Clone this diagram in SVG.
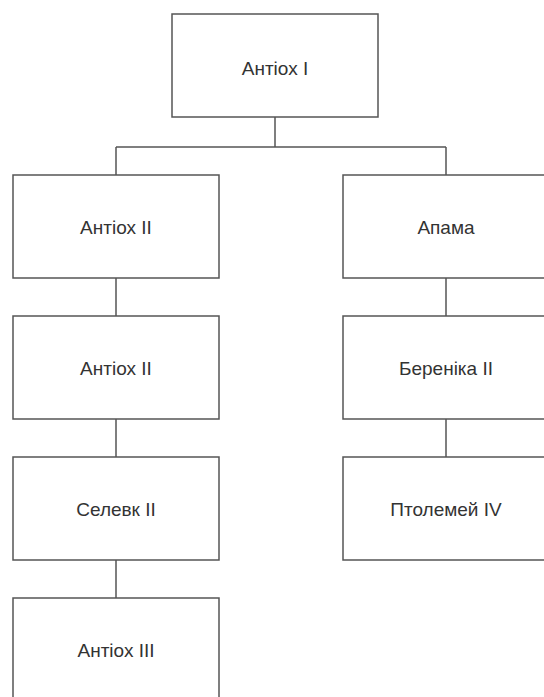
<svg xmlns="http://www.w3.org/2000/svg" width="544" height="697" viewBox="0 0 544 697">
<style>
.box{fill:#fff;stroke:#555;stroke-width:1.5}
.lbl{font-family:"Liberation Sans",Arial,sans-serif;font-size:19px;fill:#333;text-anchor:middle;dominant-baseline:central}
.con{stroke:#555;stroke-width:1.5;fill:none}
</style>
<rect width="544" height="697" fill="#fff"/>
<g id="connectors">
<path class="con" d="M275 117V147M116 147H446M116 147V175M446 147V175M116 278V316M116 419V457M116 560V598M446 278V316M446 419V457"/>
</g>
<g id="antiochus1"><rect class="box" x="172" y="14" width="206" height="103"/><text class="lbl" x="275" y="68">Антіох I</text></g>
<g id="antiochus2a"><rect class="box" x="13" y="175" width="206" height="103"/><text class="lbl" x="116" y="227">Антіох II</text></g>
<g id="antiochus2b"><rect class="box" x="13" y="316" width="206" height="103"/><text class="lbl" x="116" y="368">Антіох II</text></g>
<g id="seleucus2"><rect class="box" x="13" y="457" width="206" height="103"/><text class="lbl" x="116" y="509">Селевк II</text></g>
<g id="antiochus3"><rect class="box" x="13" y="598" width="206" height="103"/><text class="lbl" x="116" y="650">Антіох III</text></g>
<g id="apama"><rect class="box" x="343" y="175" width="206" height="103"/><text class="lbl" x="446" y="227">Апама</text></g>
<g id="berenice2"><rect class="box" x="343" y="316" width="206" height="103"/><text class="lbl" x="446" y="368">Береніка II</text></g>
<g id="ptolemy4"><rect class="box" x="343" y="457" width="206" height="103"/><text class="lbl" x="446" y="509">Птолемей IV</text></g>
</svg>
